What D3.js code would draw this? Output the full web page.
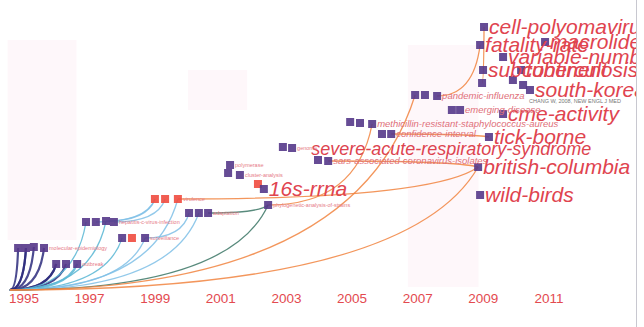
<!DOCTYPE html>
<html>
<head>
<meta charset="utf-8">
<script src="https://cdn.jsdelivr.net/npm/d3@7"></script>
<style>
  body { margin: 0; background: #fff; }
  svg { display: block; }
</style>
</head>
<body>
<svg id="main" width="644" height="327"></svg>
<script>
const totalWidth = 644;
const totalHeight = 327;
const rightEdge = 636;

// time zone ticks along the bottom
const years = [1995, 1997, 1999, 2001, 2003, 2005, 2007, 2009, 2011];

// nodes: [id, year position, height level, kind]
// kind: p = purple node, r = red (burst) node, o = origin, n = label anchor only
const nodes = [
    ["o", 1994.57, 0, "o"],
    ["a1", 1994.82, 4.2, "p"], ["a2", 1995.06, 4.2, "p"], ["a3", 1995.30, 4.3, "p"], ["a4", 1995.61, 4.2, "p"],
    ["b1", 1995.98, 2.6, "p"], ["b2", 1996.28, 2.6, "p"], ["b3", 1996.62, 2.6, "p"],
    ["c1", 1996.89, 6.8, "p"], ["c2", 1997.19, 6.8, "p"], ["c3", 1997.50, 6.9, "p"], ["c4", 1997.74, 6.8, "p"],
    ["d1", 1997.99, 5.2, "p"], ["d2", 1998.29, 5.2, "r"], ["d3", 1998.69, 5.2, "p"],
    ["e1", 1998.99, 9.1, "r"], ["e2", 1999.30, 9.1, "r"], ["e3", 1999.69, 9.1, "r"],
    ["f1", 2000.03, 7.7, "p"], ["f2", 2000.33, 7.7, "p"], ["f3", 2000.61, 7.7, "p"],
    ["g1", 2001.28, 12.5, "p"], ["g2", 2001.22, 11.7, "p"], ["g3", 2001.58, 11.5, "p"],
    ["g4", 2002.13, 10.6, "r"], ["g5", 2002.31, 10.1, "p"], ["g6", 2002.44, 8.5, "p"],
    ["h1", 2002.89, 14.3, "p"], ["h2", 2003.17, 14.2, "p"], ["hs", 2003.60, 14.1, "n"],
    ["h3", 2003.96, 13.0, "p"], ["h4", 2004.27, 12.9, "p"],
    ["i1", 2004.94, 16.8, "p"], ["i2", 2005.24, 16.7, "p"], ["i3", 2005.61, 16.6, "p"],
    ["i4", 2005.91, 15.6, "p"], ["i5", 2006.19, 15.6, "p"],
    ["j1", 2006.92, 19.5, "p"], ["j2", 2007.22, 19.5, "p"], ["j3", 2007.59, 19.4, "p"],
    ["j4", 2008.04, 18.0, "p"], ["j5", 2008.29, 18.0, "p"], ["j6", 2008.96, 20.7, "p"],
    ["cell", 2009.02, 26.3, "p"], ["fat", 2008.90, 24.5, "p"], ["mac", 2010.88, 24.8, "p"],
    ["var", 2009.60, 23.3, "p"], ["sub", 2008.99, 22.0, "p"], ["tub", 2010.15, 22.0, "p"],
    ["k1", 2009.90, 21.0, "p"], ["k2", 2010.21, 20.5, "p"], ["sk", 2010.42, 20.0, "p"],
    ["cme", 2009.60, 17.6, "p"], ["tick", 2009.17, 15.3, "p"],
    ["bc", 2008.84, 12.3, "p"], ["wild", 2008.90, 9.5, "p"]
];

// labels: [node id, text, size class]  L = large keyword, M = medium, s = small, t = tiny
const labels = [
    ["cell", "cell-polyomavirus", "L"],
    ["fat", "fatality-rate", "L"],
    ["mac", "macrolide", "L"],
    ["var", "variable-number", "L"],
    ["sub", "subcontinent", "L"],
    ["tub", "tuberculosis", "L"],
    ["sk", "south-korea", "L"],
    ["cme", "cme-activity", "L"],
    ["tick", "tick-borne", "L"],
    ["bc", "british-columbia", "L"],
    ["wild", "wild-birds", "L"],
    ["hs", "severe-acute-respiratory-syndrome", "M"],
    ["g5", "16s-rrna", "L"],
    ["i3", "methicillin-resistant-staphylococcus-aureus", "s"],
    ["i5", "confidence-interval", "s"],
    ["h4", "sars-associated-coronavirus-isolates", "s"],
    ["j3", "pandemic-influenza", "s"],
    ["j5", "emerging-disease", "s"],
    ["h2", "genome", "t"],
    ["a4", "molecular-epidemiology", "t"],
    ["b3", "outbreak", "t"],
    ["c4", "hepatitis-c-virus-infection", "t"],
    ["d3", "surveillance", "t"],
    ["e3", "virulence", "t"],
    ["f3", "adaptation", "t"],
    ["g1", "polymerase", "t"],
    ["g3", "cluster-analysis", "t"],
    ["g6", "phylogenetic-analysis-of-strains", "t"]
];
const refNote = "CHANG W, 2008, NEW ENGL J MED";

// links between co-cited nodes: [source, target]
const links = [
    ["o", "a1"], ["o", "a2"], ["o", "a3"], ["o", "a4"], ["o", "b1"], ["o", "b2"], ["o", "b3"],
    ["o", "a2"], ["o", "b1"],
    ["o", "c1"], ["o", "c3"], ["o", "d1"], ["o", "d3"],
    ["c2", "e1"], ["c4", "e2"], ["c3", "e1"],
    ["o", "e3"], ["d3", "f1"], ["o", "f2"],
    ["o", "g6"], ["f3", "g6"], ["g6", "i3"],
    ["o", "j1"], ["o", "bc"], ["e3", "bc"], ["h4", "bc"],
    ["j6", "cell"], ["i5", "tick"], ["j3", "fat"]
];

// faint background patches: [from year, to year, low level, high level]
const bands = [
    [2006.7, 2008.85, 0.3, 24.5],
    [1994.5, 1996.6, 5.0, 25.0],
    [2000.0, 2001.8, 18.0, 22.0]
];

const xscale = d3.scaleLinear([1995, 2011], [24, 549]);
const yscale = d3.scaleLinear([0, 26], [290, 30]);

const linkColor = d3.scaleThreshold(
    [1996.5, 1998.5, 2000.5, 2002.5, 2004.5],
    ["#2d2b7d", "#58b6d3", "#7fbfe6", "#3b7565", "#79b84f", "#f1843f"]
);

const byId = {};
nodes.forEach(n => { byId[n[0]] = { id: n[0], t: n[1], lv: n[2], kind: n[3] }; });

const svg = d3.select("#main");
svg.append("rect").attr("width", totalWidth).attr("height", totalHeight).attr("fill", "#fff");

svg.append("clipPath").attr("id", "clip")
    .append("rect").attr("x", 0).attr("y", 0).attr("width", rightEdge).attr("height", totalHeight);

const chart = svg.append("g").attr("clip-path", "url(#clip)");

function makeBands() {
    chart.selectAll(".band").data(bands).enter()
        .append("rect")
        .attr("class", "band")
        .attr("x", d => xscale(d[0]))
        .attr("y", d => yscale(d[3]))
        .attr("width", d => xscale(d[1]) - xscale(d[0]))
        .attr("height", d => yscale(d[2]) - yscale(d[3]))
        .attr("fill", "#fbe6ee")
        .attr("opacity", 0.3);
}

function linkPath(d) {
    let s = byId[d[0]], t = byId[d[1]];
    let sx = xscale(s.t), sy = yscale(s.lv), tx = xscale(t.t), ty = yscale(t.lv);
    let cx = sx + 0.85 * (tx - sx);
    return `M${sx},${sy} Q${cx},${sy} ${tx},${ty}`;
}

function makeLinks() {
    chart.selectAll(".link").data(links).enter()
        .append("path")
        .attr("class", "link")
        .attr("d", linkPath)
        .attr("fill", "none")
        .attr("stroke", d => linkColor(byId[d[1]].t))
        .attr("stroke-width", d => byId[d[1]].t < 1996.7 ? 2.2 : 1.3)
        .attr("stroke-opacity", 0.85);
}

function makeNodes() {
    let list = nodes.filter(n => n[3] === "p" || n[3] === "r");
    chart.selectAll(".node").data(list).enter()
        .append("rect")
        .attr("class", "node")
        .attr("x", d => xscale(d[1]) - 4)
        .attr("y", d => yscale(d[2]) - 4)
        .attr("width", 8)
        .attr("height", 8)
        .attr("fill", d => d[3] === "r" ? "#ef4b3f" : "#55398a")
        .attr("opacity", 0.9);
}

function makeLabels() {
    let sizes = { L: 21, M: 18, s: 9.5, t: 5.5 };
    let colors = { L: "#e0444f", M: "#dd4450", s: "#e0707a", t: "#e67a86" };
    chart.selectAll(".label").data(labels).enter()
        .append("text")
        .attr("class", "label")
        .attr("x", d => xscale(byId[d[0]].t) + 5)
        .attr("y", d => yscale(byId[d[0]].lv))
        .attr("dy", "0.35em")
        .attr("font-family", "'Liberation Sans', Arial, sans-serif")
        .attr("font-style", d => d[2] === "t" ? "normal" : "italic")
        .attr("font-size", d => sizes[d[2]])
        .attr("fill", d => colors[d[2]])
        .text(d => d[1]);

    let n = byId["k2"];
    chart.append("text")
        .attr("x", xscale(n.t) + 6)
        .attr("y", yscale(n.lv) + 18)
        .attr("font-family", "'Liberation Sans', Arial, sans-serif")
        .attr("font-size", 5.5)
        .attr("fill", "#777")
        .text(refNote);
}

function makeAxis() {
    svg.selectAll(".year").data(years).enter()
        .append("text")
        .attr("class", "year")
        .attr("x", d => xscale(d))
        .attr("y", 303)
        .attr("text-anchor", "middle")
        .attr("font-family", "'Liberation Sans', Arial, sans-serif")
        .attr("font-size", 13.5)
        .attr("fill", "#e34a4f")
        .text(d => d);

    svg.append("line")
        .attr("x1", rightEdge + 0.5).attr("x2", rightEdge + 0.5)
        .attr("y1", 0).attr("y2", totalHeight)
        .attr("stroke", "#c8c8d0");
}

makeBands();
makeLinks();
makeNodes();
makeLabels();
makeAxis();
</script>
</body>
</html>
